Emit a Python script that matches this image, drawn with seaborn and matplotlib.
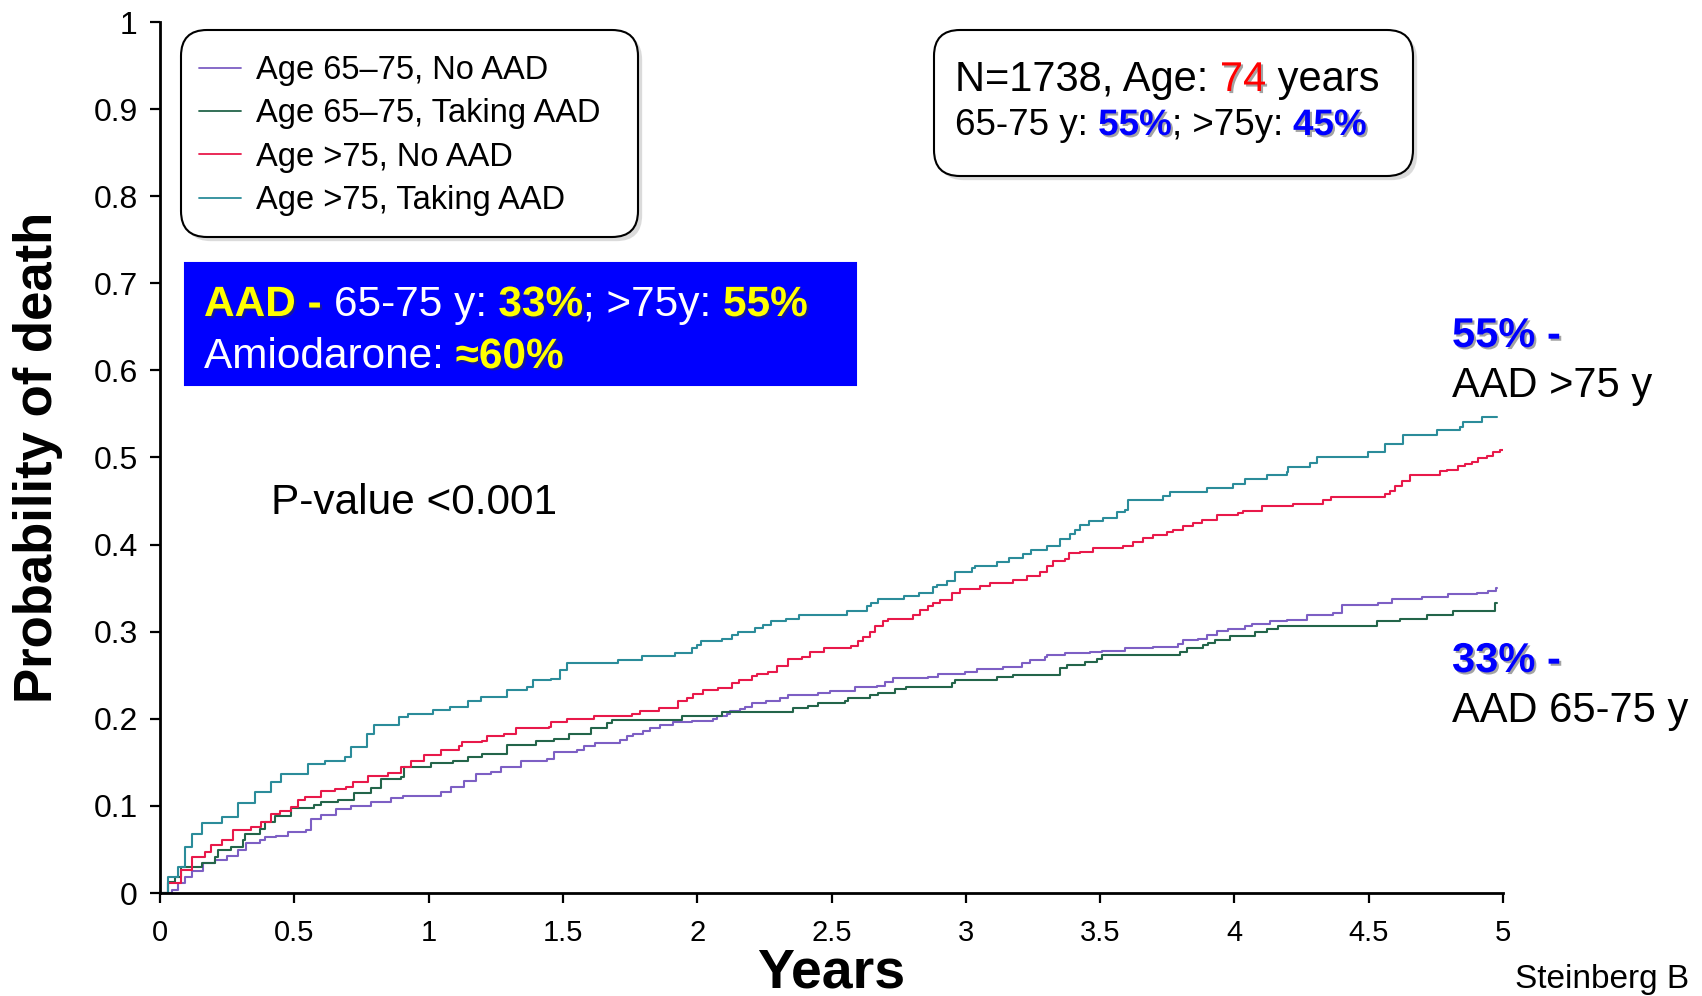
import numpy as np
import pandas as pd
import matplotlib
matplotlib.use("Agg")
import matplotlib.pyplot as plt
import seaborn as sns
from matplotlib.patches import FancyBboxPatch
from matplotlib.transforms import IdentityTransform
import matplotlib.patheffects as pe

# ---------------- data ----------------
groups = ["Age 65\u201375, No AAD", "Age 65\u201375, Taking AAD",
          "Age >75, No AAD", "Age >75, Taking AAD"]
colors = ["#7d5fc4", "#23654a", "#e8194a", "#2b8c9a"]

# (years, cumulative probability of death) step points
young_no_aad = [(0, 0), (.043, .004), (.068, .011), (.093, .018), (.118, .025), (.161, .034),
                (.204, .038), (.248, .043), (.29, .049), (.322, .057), (.371, .061), (.39, .064),
                (.433, .066), (.477, .070), (.545, .072), (.563, .085), (.6, .090), (.656, .096),
                (.712, .100), (.786, .104), (.86, .109), (.904, .111), (1.046, .116), (1.083, .122),
                (1.133, .129), (1.176, .137), (1.232, .139), (1.269, .145), (1.343, .151),
                (1.442, .154), (1.467, .162), (1.553, .164), (1.578, .169), (1.62, .172),
                (1.712, .176), (1.737, .180), (1.762, .183), (1.799, .186), (1.824, .190),
                (1.861, .193), (1.911, .196), (1.979, .198), (2.06, .200), (2.072, .203),
                (2.11, .206), (2.122, .209), (2.159, .211), (2.178, .214), (2.203, .218),
                (2.258, .221), (2.308, .224), (2.339, .227), (2.451, .230), (2.494, .232),
                (2.587, .236), (2.668, .238), (2.699, .242), (2.73, .247), (2.86, .248),
                (2.898, .251), (2.997, .254), (3.04, .257), (3.14, .260), (3.208, .264),
                (3.239, .267), (3.295, .271), (3.301, .273), (3.369, .276), (3.462, .277),
                (3.506, .278), (3.593, .281), (3.698, .283), (3.791, .286), (3.81, .291),
                (3.866, .292), (3.897, .296), (3.934, .301), (3.977, .303), (4.039, .306),
                (4.064, .309), (4.132, .312), (4.194, .314), (4.269, .319), (4.368, .321),
                (4.399, .331), (4.536, .333), (4.585, .338), (4.697, .340), (4.796, .343),
                (4.902, .345), (4.945, .347), (4.974, .350), (4.978, .350)]

young_aad = [(0, 0), (.031, .013), (.056, .018), (.08, .030), (.155, .034), (.204, .041),
             (.216, .049), (.266, .053), (.309, .061), (.316, .068), (.371, .074), (.39, .082),
             (.427, .088), (.489, .098), (.575, .101), (.6, .105), (.662, .107), (.724, .115),
             (.786, .121), (.823, .131), (.897, .133), (.91, .145), (1.009, .149), (1.089, .152),
             (1.145, .156), (1.2, .160), (1.293, .170), (1.398, .174), (1.467, .177),
             (1.522, .182), (1.603, .189), (1.663, .195), (1.681, .199), (1.942, .203),
             (2.091, .2075), (2.355, .212), (2.414, .215), (2.451, .218), (2.55, .220),
             (2.563, .224), (2.643, .227), (2.674, .230), (2.736, .234), (2.776, .237),
             (2.947, .2415), (2.96, .245), (3.115, .248), (3.177, .250), (3.35, .258),
             (3.375, .262), (3.444, .265), (3.487, .269), (3.506, .273), (3.797, .277),
             (3.822, .281), (3.884, .285), (3.903, .287), (3.928, .291), (3.983, .295),
             (4.077, .300), (4.12, .303), (4.163, .307), (4.53, .312), (4.617, .315),
             (4.716, .319), (4.815, .324), (4.97, .333), (4.976, .333)]

old_no_aad = [(0, 0), (.031, .011), (.08, .026), (.118, .041), (.167, .047), (.19, .055),
              (.229, .061), (.272, .072), (.34, .076), (.377, .082), (.415, .091), (.446, .094),
              (.489, .099), (.513, .107), (.538, .110), (.6, .117), (.65, .119), (.693, .122),
              (.718, .128), (.774, .134), (.848, .138), (.897, .145), (.934, .152), (.984, .158),
              (1.046, .164), (1.114, .169), (1.126, .173), (1.2, .175), (1.219, .180),
              (1.28, .183), (1.324, .189), (1.448, .191), (1.454, .196), (1.516, .200),
              (1.615, .203), (1.756, .206), (1.787, .209), (1.859, .212), (1.93, .220),
              (1.961, .224), (1.983, .228), (2.02, .233), (2.079, .235), (2.128, .241),
              (2.157, .245), (2.203, .249), (2.221, .252), (2.265, .254), (2.296, .261),
              (2.339, .269), (2.389, .271), (2.42, .277), (2.472, .281), (2.571, .284),
              (2.6, .289), (2.618, .294), (2.643, .300), (2.662, .306), (2.693, .312),
              (2.711, .315), (2.804, .319), (2.829, .325), (2.86, .330), (2.879, .333),
              (2.904, .336), (2.947, .345), (2.978, .349), (3.053, .352), (3.09, .356),
              (3.177, .359), (3.226, .364), (3.276, .369), (3.301, .375), (3.326, .381),
              (3.369, .384), (3.385, .390), (3.425, .392), (3.475, .396), (3.586, .398),
              (3.624, .403), (3.661, .408), (3.698, .411), (3.748, .415), (3.772, .417),
              (3.81, .421), (3.847, .425), (3.878, .428), (3.934, .434), (4.014, .436),
              (4.033, .439), (4.101, .444), (4.219, .447), (4.331, .451), (4.358, .455),
              (4.561, .458), (4.579, .462), (4.598, .467), (4.623, .473), (4.654, .480),
              (4.765, .484), (4.79, .486), (4.834, .490), (4.858, .492), (4.883, .495),
              (4.908, .499), (4.939, .502), (4.964, .506), (4.989, .509), (5.0, .509)]

old_aad = [(0, 0), (.031, .018), (.068, .030), (.093, .053), (.118, .068), (.155, .080),
           (.23, .087), (.29, .103), (.353, .116), (.415, .128), (.452, .137), (.55, .148),
           (.613, .152), (.687, .156), (.71, .168), (.77, .183), (.798, .193), (.89, .202),
           (.922, .205), (1.015, .210), (1.08, .213), (1.145, .220), (1.194, .225),
           (1.293, .233), (1.367, .236), (1.39, .244), (1.454, .246), (1.49, .256),
           (1.516, .264), (1.706, .268), (1.793, .272), (1.917, .276), (1.979, .281),
           (1.998, .285), (2.016, .289), (2.091, .292), (2.128, .296), (2.153, .300),
           (2.215, .304), (2.246, .308), (2.273, .312), (2.33, .315), (2.38, .319),
           (2.556, .324), (2.631, .329), (2.646, .333), (2.674, .337), (2.77, .341),
           (2.826, .345), (2.879, .351), (2.891, .354), (2.929, .358), (2.96, .368),
           (3.022, .373), (3.034, .375), (3.115, .380), (3.162, .385), (3.214, .389),
           (3.243, .394), (3.301, .398), (3.35, .407), (3.388, .412), (3.406, .417),
           (3.425, .422), (3.46, .427), (3.512, .431), (3.562, .437), (3.593, .440),
           (3.605, .451), (3.735, .456), (3.76, .460), (3.897, .465), (3.996, .470),
           (4.039, .475), (4.12, .480), (4.194, .483), (4.2, .489), (4.281, .494),
           (4.306, .500), (4.498, .506), (4.56, .516), (4.629, .526), (4.753, .532),
           (4.84, .535), (4.85, .541), (4.92, .547), (4.976, .547)]

series = [young_no_aad, young_aad, old_no_aad, old_aad]

x_ticks = [0, 0.5, 1, 1.5, 2, 2.5, 3, 3.5, 4, 4.5, 5]
x_tick_labels = ["0", "0.5", "1", "1.5", "2", "2.5", "3", "3.5", "4", "4.5", "5"]
y_ticks = [0, .1, .2, .3, .4, .5, .6, .7, .8, .9, 1]
y_tick_labels = ["0", "0.1", "0.2", "0.3", "0.4", "0.5", "0.6", "0.7", "0.8", "0.9", "1"]

# ---------------- figure ----------------
sns.set_theme(style="white")
plt.rcParams["font.family"] = ["Liberation Sans", "DejaVu Sans"]
plt.rcParams["text.color"] = "black"

W, H = 1702, 996
fig = plt.figure(figsize=(W / 100, H / 100), dpi=100)
fig.patch.set_facecolor("white")
ax = fig.add_axes([160 / W, 103 / H, 1343 / W, 871 / H])
ax.patch.set_visible(False)

rows = []
for g, steps in zip(groups, series):
    for t, p in steps:
        rows.append((g, t, p))
df = pd.DataFrame(rows, columns=["Group", "Years", "Prob"])

sns.lineplot(data=df, x="Years", y="Prob", hue="Group", hue_order=groups,
             palette=colors, drawstyle="steps-post", estimator=None, sort=False,
             errorbar=None, lw=1.5, ax=ax)

ax.set_xlim(0, 5)
ax.set_ylim(0, 1)
ax.set_xticks(x_ticks)
ax.set_xticklabels(x_tick_labels, fontsize=21)
ax.set_yticks(y_ticks)
ax.set_yticklabels(y_tick_labels, fontsize=23)
ax.tick_params(axis="both", direction="out", length=7, width=1.6, colors="black",
               bottom=True, left=True)
ax.tick_params(axis="x", pad=12)
ax.tick_params(axis="y", pad=9)
sns.despine(ax=ax)
for s in ("left", "bottom"):
    ax.spines[s].set_color("black")
    ax.spines[s].set_linewidth(2.0)

ax.set_ylabel("Probability of death", fontsize=38, fontweight="bold", color="black")
ax.yaxis.set_label_coords(-0.0908, 0.5)
ax.yaxis.label.set_va("center")
ax.set_xlabel("Years", fontsize=40, fontweight="bold", color="black")
ax.xaxis.set_label_coords(0.5, (893 - 987) / 871)
ax.xaxis.label.set_va("baseline")

# legend (restyled)
old = ax.get_legend()
handles = old.legend_handles
labels = [t.get_text() for t in old.get_texts()]
old.remove()
leg = ax.legend(handles, labels, loc="upper left", bbox_to_anchor=(199 / W, 1 - 55 / H),
                bbox_transform=fig.transFigure, frameon=False, fontsize=23.5,
                handlelength=1.3, handletextpad=0.45, labelspacing=0.38,
                borderpad=0, borderaxespad=0, labelcolor="black")
for h in leg.legend_handles:
    h.set_linewidth(1.3)


def box(x0, y0, x1, y1, fc, ec, rounding, shadow):
    style = f"round,pad=0,rounding_size={rounding}" if rounding else "square,pad=0"
    p = FancyBboxPatch((x0, H - y1), x1 - x0, y1 - y0, boxstyle=style,
                       transform=IdentityTransform(), fc=fc, ec=ec, lw=1.5, zorder=-1)
    if shadow:
        p.set_path_effects([pe.withSimplePatchShadow(offset=(3, -3), shadow_rgbFace="#999999",
                                                     alpha=0.35)])
    fig.add_artist(p)
    return p


shadow_fx = [pe.withSimplePatchShadow(offset=(1.5, -1.5), shadow_rgbFace="#333333", alpha=0.45)]


def rich(x, y, parts, size):
    prev = None
    for s, c, w, sh in parts:
        kw = dict(fontsize=size, color=c, fontweight=w)
        if prev is None:
            t = fig.text(x / W, 1 - y / H, s, ha="left", va="baseline", **kw)
        else:
            t = ax.annotate(s, xy=(1, 0), xycoords=prev, ha="left", va="bottom",
                            annotation_clip=False, **kw)
        if sh:
            t.set_path_effects(shadow_fx)
        prev = t


# legend box
box(181, 30, 638, 237, "white", "black", 26, True)

# top right info box
box(934, 30, 1413, 176, "white", "black", 26, True)
rich(955, 91, [("N=1738, Age: ", "black", "normal", False),
               ("74", "#ff0000", "normal", True),
               (" years", "black", "normal", False)], 30)
rich(955, 135, [("65-75 y: ", "black", "normal", False),
                ("55%", "#0000ff", "bold", True),
                ("; >75y: ", "black", "normal", False),
                ("45%", "#0000ff", "bold", True)], 26.5)

# blue AAD box
box(185, 263, 856, 385, "#0000ff", "#0000ff", 0, False)
rich(204, 316, [("AAD - ", "#ffff00", "bold", True),
                ("65-75 y: ", "white", "normal", False),
                ("33%", "#ffff00", "bold", True),
                ("; >75y: ", "white", "normal", False),
                ("55%", "#ffff00", "bold", True)], 30.5)
rich(204, 368, [("Amiodarone: ", "white", "normal", False),
                ("\u224860%", "#ffff00", "bold", True)], 30.5)

# p-value
fig.text(271 / W, 1 - 514 / H, "P-value <0.001", fontsize=30.5, color="black",
         ha="left", va="baseline")

# right-hand labels
fig.text(1452 / W, 1 - 347 / H, "55% -", fontsize=30, color="#0000ff", fontweight="bold",
         ha="left", va="baseline", path_effects=shadow_fx)
fig.text(1452 / W, 1 - 397 / H, "AAD >75 y", fontsize=30, color="black",
         ha="left", va="baseline")
fig.text(1452 / W, 1 - 672 / H, "33% -", fontsize=30, color="#0000ff", fontweight="bold",
         ha="left", va="baseline", path_effects=shadow_fx)
fig.text(1452 / W, 1 - 722 / H, "AAD 65-75 y", fontsize=30, color="black",
         ha="left", va="baseline")

# citation
fig.text(1515 / W, 1 - 988 / H, "Steinberg B", fontsize=24, color="black",
         ha="left", va="baseline")

fig.savefig("out.png", dpi=100)
